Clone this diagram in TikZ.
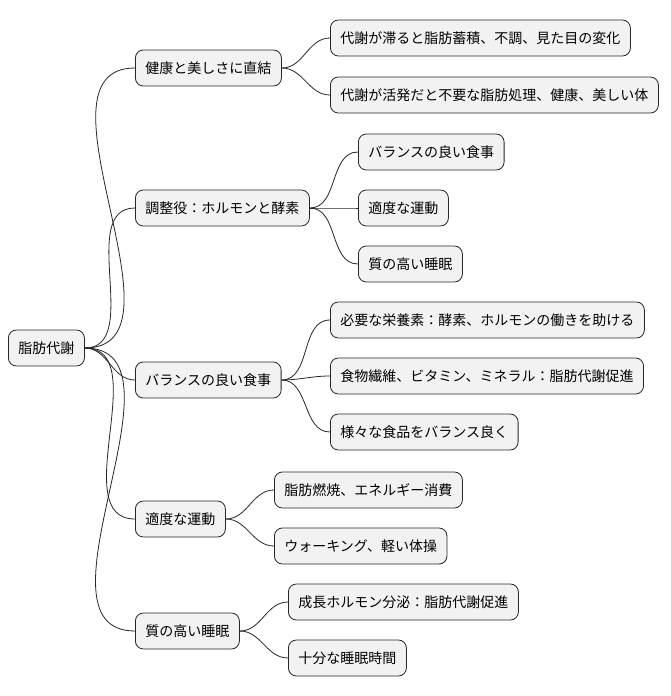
\documentclass[tikz,border=0pt]{standalone}
\usepackage{fontspec}
\newfontfamily\jpfont{Noto Sans CJK JP}
\tikzset{
  topic/.style={draw=black!85,fill=black!5,rounded corners=8pt,line width=0.8pt,
    minimum height=36pt,inner xsep=10pt,anchor=west,font=\jpfont\fontsize{14}{16}\selectfont},
  link/.style={draw=black!85,line width=0.8pt}
}
\begin{document}
\begin{tikzpicture}[x=1pt,y=-1pt]
  \useasboundingbox (0,0) rectangle (670,696);
  % root
  \node[topic] (root) at (8,348) {脂肪代謝};
  % first level
  \node[topic] (health) at (135,68) {健康と美しさに直結};
  \node[topic] (regul) at (135,208) {調整役：ホルモンと酵素};
  \node[topic] (diet) at (135,380) {バランスの良い食事};
  \node[topic] (move) at (135,519) {適度な運動};
  \node[topic] (sleep) at (135,631) {質の高い睡眠};
  % second level
  \node[topic] (h1) at (330,38) {代謝が滞ると脂肪蓄積、不調、見た目の変化};
  \node[topic] (h2) at (330,95) {代謝が活発だと不要な脂肪処理、健康、美しい体};
  \node[topic] (r1) at (358,152) {バランスの良い食事};
  \node[topic] (r2) at (358,208) {適度な運動};
  \node[topic] (r3) at (358,264) {質の高い睡眠};
  \node[topic] (d1) at (330,320) {必要な栄養素：酵素、ホルモンの働きを助ける};
  \node[topic] (d2) at (330,376) {食物繊維、ビタミン、ミネラル：脂肪代謝促進};
  \node[topic] (d3) at (330,432) {様々な食品をバランス良く};
  \node[topic] (m1) at (274,490) {脂肪燃焼、エネルギー消費};
  \node[topic] (m2) at (274,546) {ウォーキング、軽い体操};
  \node[topic] (s1) at (288,602) {成長ホルモン分泌：脂肪代謝促進};
  \node[topic] (s2) at (288,658) {十分な睡眠時間};
  % connectors
  \foreach \a in {health,regul,diet,move,sleep}
    \draw[link] (root.east) to[out=0,in=180] (\a.west);
  \foreach \a/\b in {health/h1,health/h2,regul/r1,regul/r2,regul/r3,
                     diet/d1,diet/d2,diet/d3,move/m1,move/m2,sleep/s1,sleep/s2}
    \draw[link] (\a.east) to[out=0,in=180] (\b.west);
\end{tikzpicture}
\end{document}
